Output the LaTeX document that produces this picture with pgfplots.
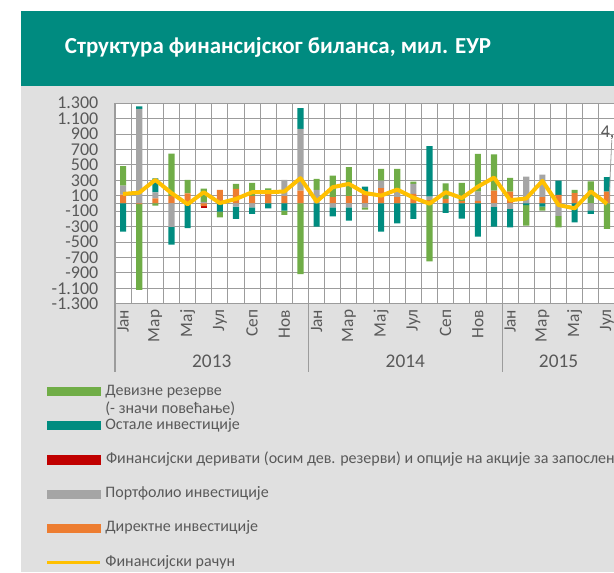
\documentclass[border=0pt]{standalone}
\usepackage{pgfplots}
\pgfplotsset{compat=1.18}
\usepackage{pgfplotstable}
\usepackage{fontspec}
\setmainfont{Carlito}

\definecolor{cRes}{HTML}{70AD47}
\definecolor{cOth}{HTML}{008C80}
\definecolor{cDer}{HTML}{C00000}
\definecolor{cPort}{HTML}{A5A5A5}
\definecolor{cDir}{HTML}{ED7D31}
\definecolor{cLine}{HTML}{FFC000}
\definecolor{banner}{HTML}{008B80}
\definecolor{bg}{HTML}{E0E0E0}
\definecolor{txt}{HTML}{595959}
\definecolor{gridc}{HTML}{9C9C9C}

% monthly values, mil. EUR (Jan 2013 = 1 ... Jul 2015 = 31)
\pgfplotstableread{
x  dir  port der  oth   res  fin
1  115  117  0   -365  251  124
2  -10  1228 0   30    -1110 140
3  65   78   0   184   -28  306
4  100  -302 0   -230  545  135
5  130  0    0   -320  175  -10
6  -35  20   -20 0     172  146
7  176  0    0   -105  -74  5
8  189  -40  0   -160  64   59
9  100  -50  0   -85   167  146
10 124  0    0   -62   73   146
11 100  206  0   -92   -56  155
12 168  800  0   269   -915 328
13 0    176  0   -300  143  25
14 81   -52  0   -114  281  211
15 94   -52  0   -170  376  254
16 146  -50  0   73    -30  135
17 198  99   0   -365  151  102
18 81   65   0   -257  302  180
19 124  130  0   -200  30   76
20 45   45   0   653   -751 -3
21 59   0    0   -123  203  146
22 35   0    0   -195  232  70
23 35   120  0   -430  489  218
24 168  -43  0   -257  467  336
25 155  -70  0   -239  177  42
26 0    349  0   -20   -267 65
27 81   294  0   -40   -52  293
28 111  -160 0   186   -150 -20
29 133  0    0   -244  43   -63
30 0    -90  0   -45   288  156
31 155  0    0   185   -330 -5
}\fb

\newcommand{\tickfont}{\fontsize{13.5}{15}\selectfont}
\newcommand{\yearfont}{\fontsize{14.5}{16}\selectfont}
\newcommand{\monfont}{\fontsize{13}{15}\selectfont}
\newcommand{\legfont}{\fontsize{12}{13.7}\selectfont}

\pgfplotsset{
  base/.style={
    scale only axis, width=375pt, height=150.4pt,
    at={(86.25pt,-227.8pt)}, anchor=south west,
    xmin=0.5, xmax=31.5, ymin=-1300, ymax=1300,
  },
  stk/.style={base, ybar stacked, bar width=0.38},
  swatch/.style={legend image code/.code={\fill[#1] (0pt,-3.1pt) rectangle (39.5pt,3.1pt);}},
}

\begin{document}
\begin{tikzpicture}
\begin{scope}[x=0.75pt, y=-0.75pt]
\fill[white] (0,0) rectangle (614,572);
\fill[banner] (21,11) rectangle (614,86);
\fill[bg] (21,86) rectangle (614,572);
\node[font=\bfseries\fontsize{17.2}{20}\selectfont, white] at (278,47)
  {Структура финансијског биланса, мил. ЕУР};
\end{scope}

% positive parts
\begin{axis}[stk,
  axis background/.style={fill=white},
  axis x line*=bottom, axis y line*=left,
  axis line style={gridc, line width=0.8pt},
  tick style={draw=none},
  major tick length=0pt, minor tick length=0pt,
  ytick={-1300,-1100,...,1300},
  yticklabels={-1.300,-1.100,-900,-700,-500,-300,-100,100,300,500,700,900,1.100,1.300},
  extra y ticks={0}, extra y tick labels={},
  ymajorgrids=true,
  grid style={gridc, line width=0.7pt},
  xtick={1,3,...,31},
  xticklabels={Јан,Мар,Мај,Јул,Сеп,Нов,Јан,Мар,Мај,Јул,Сеп,Нов,Јан,Мар,Мај,Јул},
  minor xtick={1.5,2.5,...,30.5},
  xminorgrids=true,
  minor grid style={gridc, line width=0.7pt},
  yticklabel style={font=\tickfont, text=txt, anchor=east, xshift=-9pt},
  xticklabel style={font=\monfont, text=txt, rotate=90, anchor=east, xshift=-1pt},
]
\addplot[fill=cDir, draw=none] table[x=x, y expr={max(\thisrow{dir},0)}] {\fb};
\addplot[fill=cPort, draw=none] table[x=x, y expr={max(\thisrow{port},0)}] {\fb};
\addplot[fill=cDer, draw=none] table[x=x, y expr={max(\thisrow{der},0)}] {\fb};
\addplot[fill=cOth, draw=none] table[x=x, y expr={max(\thisrow{oth},0)}] {\fb};
\addplot[fill=cRes, draw=none] table[x=x, y expr={max(\thisrow{res},0)}] {\fb};
\end{axis}

% negative parts
\begin{axis}[stk, hide axis]
\addplot[fill=cDir, draw=none] table[x=x, y expr={min(\thisrow{dir},0)}] {\fb};
\addplot[fill=cPort, draw=none] table[x=x, y expr={min(\thisrow{port},0)}] {\fb};
\addplot[fill=cDer, draw=none] table[x=x, y expr={min(\thisrow{der},0)}] {\fb};
\addplot[fill=cOth, draw=none] table[x=x, y expr={min(\thisrow{oth},0)}] {\fb};
\addplot[fill=cRes, draw=none] table[x=x, y expr={min(\thisrow{res},0)}] {\fb};
\end{axis}

% financial account line, legend, year labels
\begin{axis}[base, hide axis, clip=false,
  legend cell align=left,
  legend style={draw=none, fill=none, at={(-0.1384,-0.401)}, anchor=north west,
    inner sep=0pt, row sep=15.15pt, column sep=3pt, font=\legfont, text=txt,
    nodes={inner sep=0pt, text height=8pt, text depth=2.5pt}},
]
\addlegendimage{swatch=cRes}
\addlegendentry{\parbox[t]{5cm}{Девизне резерве\\(- значи повећање)}}
\addlegendimage{swatch=cOth}
\addlegendentry{Остале инвестиције}
\addlegendimage{swatch=cDer}
\addlegendentry{\rlap{Финансијски деривати (осим дев. резерви) и опције на акције за запослене}}
\addlegendimage{swatch=cPort}
\addlegendentry{Портфолио инвестиције}
\addlegendimage{swatch=cDir}
\addlegendentry{Директне инвестиције}
\addplot[cLine, line width=3pt, line join=round,
  legend image code/.code={\draw[cLine, line width=2pt] (0pt,0pt) -- (39.5pt,0pt);}]
  table[x=x, y=fin] {\fb};
\addlegendentry{Финансијски рачун}

\draw[gridc, line width=0.8pt] (axis cs:0.5,-1300) -- (axis cs:0.5,-2190);
\draw[gridc, line width=0.8pt] (axis cs:12.5,-1300) -- (axis cs:12.5,-2190);
\draw[gridc, line width=0.8pt] (axis cs:24.5,-1300) -- (axis cs:24.5,-2190);
\node[font=\yearfont, text=txt] at (axis cs:6.5,-2040) {2013};
\node[font=\yearfont, text=txt] at (axis cs:18.5,-2040) {2014};
\node[font=\yearfont, text=txt] at (axis cs:28,-2040) {2015};
\draw[gridc, line width=0.6pt] (axis cs:31.3,820) -- (axis cs:31.12,-5);
\node[font=\tickfont, text=txt, anchor=west, inner sep=0pt] at (axis cs:30.6,920) {4,};
\end{axis}

\pgfresetboundingbox
\path[use as bounding box] (0pt,0pt) rectangle (460.5pt,-429pt);
\end{tikzpicture}
\end{document}
